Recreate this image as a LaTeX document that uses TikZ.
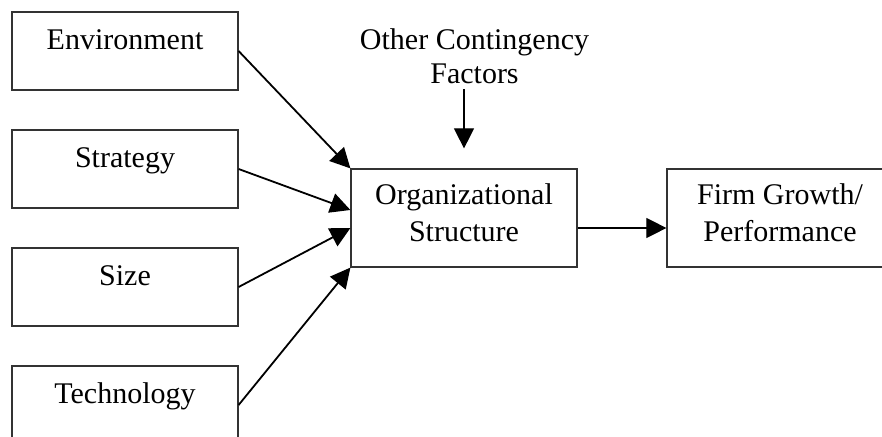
\documentclass[tikz,border=0pt]{standalone}
\usepackage{fontspec}
\setmainfont{Liberation Serif}
\usetikzlibrary{arrows.meta,calc}
\begin{document}
\begin{tikzpicture}[x=1pt,y=-1pt,
  box/.style={draw=black!80,line width=1.2pt,minimum width=226pt,minimum height=98pt,inner sep=0pt},
  smallbox/.style={box,minimum height=78pt},
  lbl/.style={font=\fontsize{30pt}{37pt}\selectfont,inner sep=0pt,align=center},
  arr/.style={-{Triangle[length=20pt,width=20pt]},line width=1.8pt},
  thinarr/.style={-{Triangle[length=20pt,width=20pt]},line width=1.1pt}]
\useasboundingbox (0,0) rectangle (882,436);
\clip (0,0) rectangle (882,436);
\node[smallbox] (env) at (125,51) {};
\node[smallbox] (str) at (125,169) {};
\node[smallbox] (size) at (125,287) {};
\node[smallbox] (tech) at (125,405) {};
\node[box] (org) at (464,218) {};
\node[box] (firm) at (780,218) {};
\node[lbl,anchor=base] (envt) at ([yshift=-38.5pt]env.north) {Environment};
\node[lbl,anchor=base] (strt) at ([yshift=-38pt]str.north) {Strategy};
\node[lbl,anchor=base] (sizet) at ([yshift=-38pt]size.north) {Size};
\node[lbl,anchor=base] (techt) at ([yshift=-38pt]tech.north) {Technology};
\node[lbl,anchor=base] (orgt) at ([yshift=-73pt]org.north) {Organizational\\Structure};
\node[lbl,anchor=base] (firmt) at ([yshift=-73pt]firm.north) {Firm Growth/\\Performance};
\node[lbl,anchor=base,font=\fontsize{30pt}{34pt}\selectfont] (oth) at (474.5,83) {Other Contingency\\Factors};
\coordinate (ctop) at ([yshift=79pt]org.north);
\coordinate (ctip) at ([yshift=20pt]org.north);
\draw[arr] (env.east) -- (org.north west);
\draw[arr] (str.east) -- ([yshift=8pt]org.west);
\draw[arr] (size.east) -- ([yshift=-10pt]org.west);
\draw[arr] (tech.east) -- (org.south west);
\draw[thinarr] ([yshift=-10pt]org.east) -- ([yshift=-10pt]firm.west);
\draw[thinarr] (ctop) -- (ctip);
\end{tikzpicture}
\end{document}
